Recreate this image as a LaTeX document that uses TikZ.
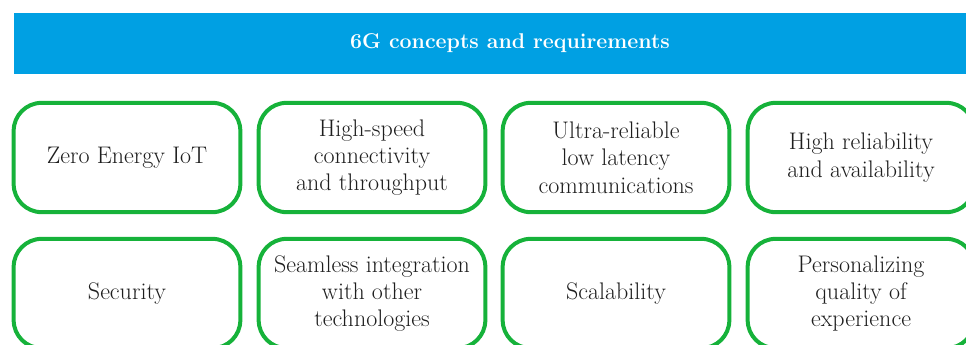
\documentclass[tikz,border=0pt]{standalone}
\definecolor{bannerblue}{RGB}{0,160,227}
\definecolor{boxgreen}{RGB}{22,178,58}
\definecolor{reqtext}{RGB}{30,30,30}
\tikzset{
  banner/.style={fill=bannerblue, text=white, minimum width=744pt, minimum height=45.75pt,
    inner sep=0pt, font=\bfseries\fontsize{16}{18}\selectfont},
  reqbox/.style={draw=boxgreen, line width=3pt, rounded corners=21pt, minimum width=170pt,
    minimum height=82pt, inner sep=0pt, align=center, text=reqtext,
    font=\fontsize{18}{20.5}\selectfont},
}
\begin{document}
\begin{tikzpicture}[x=0.75pt,y=-0.75pt]
        \useasboundingbox (0,0) rectangle (966,344);
        \clip (0,0) rectangle (966,344);
        %% Title
        \node[banner] (title) at (510,43.5) {6G concepts and requirements};
        %% First row
        \node[reqbox] (zeroiot) at (127,157.5) {Zero Energy IoT};
        \node[reqbox] (highspeed) at (372,157.5) {High-speed\\connectivity\\and throughput};
        \node[reqbox] (urllc) at (616,157.5) {Ultra-reliable\\low latency\\communications};
        \node[reqbox] (reliab) at (861,157.5) {High reliability\\and availability};
        %% Second row
        \node[reqbox] (security) at (127,293.5) {Security};
        \node[reqbox] (seamless) at (372,293.5) {Seamless integration\\with other\\technologies};
        \node[reqbox] (scalab) at (616,293.5) {Scalability};
        \node[reqbox] (persqoe) at (861,293.5) {Personalizing\\quality of\\experience};
    \end{tikzpicture}
\end{document}
